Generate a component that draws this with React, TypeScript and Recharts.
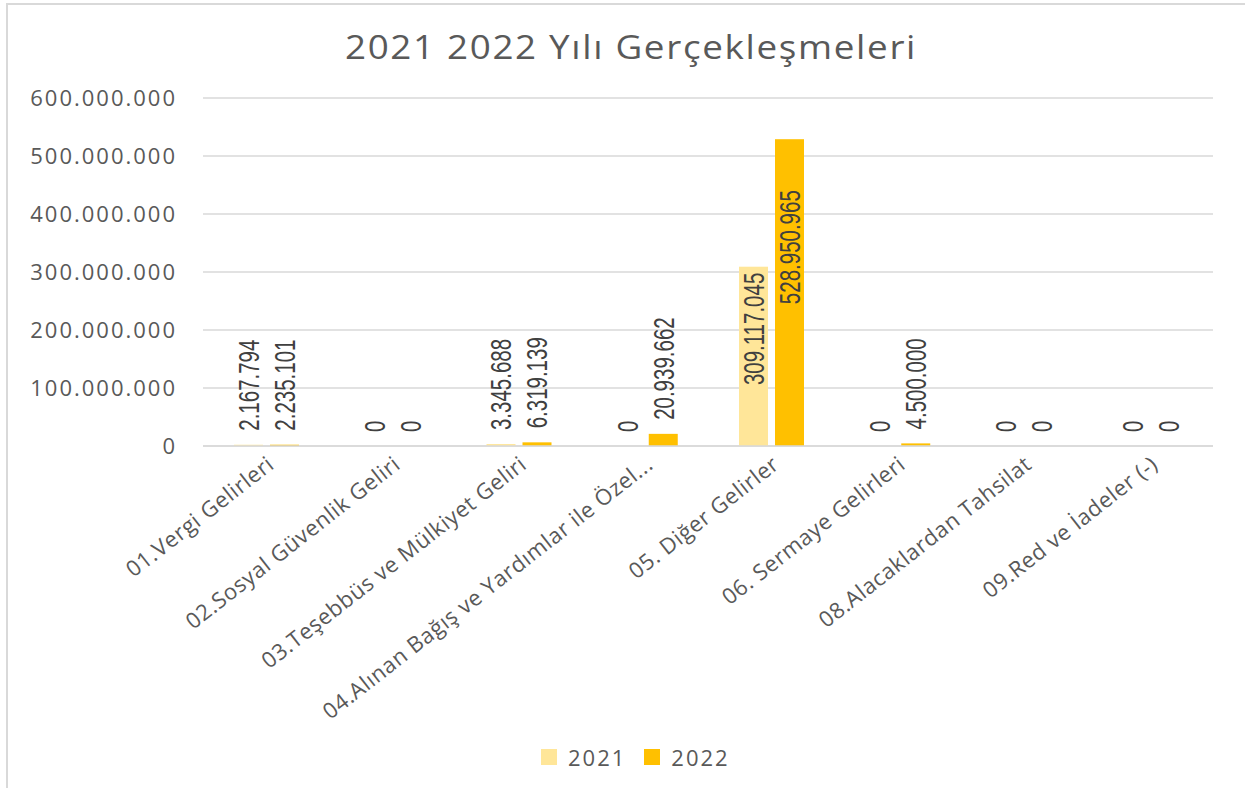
import { BarChart, Bar, XAxis, YAxis, CartesianGrid } from 'recharts';

const categories = [
  '01.Vergi Gelirleri',
  '02.Sosyal Güvenlik Geliri',
  '03.Teşebbüs ve Mülkiyet Geliri',
  '04.Alınan Bağış ve Yardımlar ile Özel...',
  '05. Diğer Gelirler',
  '06. Sermaye Gelirleri',
  '08.Alacaklardan Tahsilat',
  '09.Red ve İadeler (-)',
];

const values2021 = [2167794, 0, 3345688, 0, 309117045, 0, 0, 0];
const values2022 = [2235101, 0, 6319139, 20939662, 528950965, 4500000, 0, 0];

const yTicks = [0, 100000000, 200000000, 300000000, 400000000, 500000000, 600000000];

const seriesNames = ['2021', '2022'];
const COLORS = ['#FFE699', '#FFC000'];

const data = categories.map((name, i) => ({
  name,
  '2021': values2021[i],
  '2022': values2022[i],
}));

const fmt = (v: number) => String(Math.round(v)).replace(/\B(?=(\d{3})+(?!\d))/g, '.');

const TEXT = '#595959';
const GRID = '#d9d9d9';

// bar + its rotated value label (zero bars still get a "0")
function makeShape(key: string) {
  return function BarWithLabel(props: any) {
    const { x, y, width, height, fill, payload } = props;
    const value = payload[key];
    const cx = x + width / 2;
    const inside = value > 250000000;
    const ay = inside ? y + (value > 400000000 ? 51 : 6) : y - 14;
    return (
      <g>
        {height > 0 && <rect x={x} y={y} width={width} height={height} fill={fill} />}
        <text
          transform={`translate(${cx} ${ay}) rotate(-90) scale(1 1.4)`}
          textAnchor={inside ? 'end' : 'start'}
          dominantBaseline="central"
          fill="#404040"
          fontSize={20.5}
          fontFamily="'Liberation Sans', sans-serif"
        >
          {fmt(value)}
        </text>
      </g>
    );
  };
}

function CategoryTick(props: any) {
  const { x, y, payload } = props;
  const ax = x + 4;
  const ay = y + 6;
  return (
    <text
      x={ax}
      y={ay}
      transform={`rotate(-38 ${ax} ${ay})`}
      textAnchor="end"
      dominantBaseline="central"
      fill={TEXT}
      fontSize={22}
      letterSpacing={0.6}
      fontFamily="'Open Sans', sans-serif"
    >
      {payload.value}
    </text>
  );
}

export default function App() {
  return (
    <div style={{ position: 'absolute', left: 0, top: 0, width: 1245, height: 788, background: '#fff', overflow: 'hidden' }}>
      <div
        style={{
          position: 'absolute',
          left: 6,
          top: 3,
          right: -10,
          bottom: -10,
          borderLeft: `2px solid ${GRID}`,
          borderTop: `2px solid ${GRID}`,
        }}
      />
      <div
        style={{
          position: 'absolute',
          left: 0,
          top: 24,
          width: 1262,
          textAlign: 'center',
          fontFamily: "'Open Sans', sans-serif",
          fontSize: 33,
          letterSpacing: 1.5,
          color: TEXT,
          transform: 'scaleX(1.115)',
          transformOrigin: '631px 0',
        }}
      >
        2021 2022 Yılı Gerçekleşmeleri
      </div>
      <div style={{ position: 'absolute', left: 0, top: 0 }}>
        <BarChart
          width={1245}
          height={788}
          data={data}
          margin={{ top: 98, right: 32, bottom: 82, left: 0 }}
          barSize={29}
          barGap={7}
        >
          <CartesianGrid vertical={false} stroke={GRID} strokeWidth={1.5} />
          <XAxis
            dataKey="name"
            height={260}
            interval={0}
            tickLine={false}
            axisLine={{ stroke: GRID, strokeWidth: 1.5 }}
            tick={<CategoryTick />}
          />
          <YAxis
            width={203}
            domain={[0, 600000000]}
            ticks={yTicks}
            axisLine={false}
            tickLine={false}
            tickMargin={20}
            tickFormatter={fmt}
            tick={{ fill: TEXT, fontSize: 22, fontFamily: "'Open Sans', sans-serif", letterSpacing: 2 }}
          />
          {seriesNames.map((s, i) => (
            <Bar key={s} dataKey={s} fill={COLORS[i]} isAnimationActive={false} shape={makeShape(s)} />
          ))}
        </BarChart>
      </div>
      <div
        style={{
          position: 'absolute',
          left: 541,
          top: 742,
          display: 'flex',
          gap: 18,
          fontFamily: "'Open Sans', sans-serif",
        }}
      >
        {seriesNames.map((s, i) => (
          <div key={s} style={{ display: 'flex', alignItems: 'center', gap: 11 }}>
            <span style={{ width: 16, height: 16, background: COLORS[i], display: 'inline-block' }} />
            <span style={{ fontSize: 22, color: TEXT, letterSpacing: 2 }}>{s}</span>
          </div>
        ))}
      </div>
    </div>
  );
}
